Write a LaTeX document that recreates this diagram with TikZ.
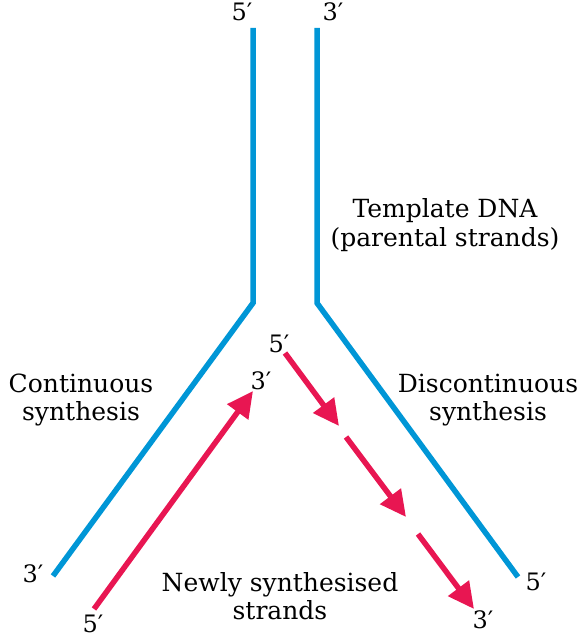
\documentclass[tikz,border=0pt]{standalone}
\usepackage{fontspec}
\setmainfont{DejaVu Serif}
\usetikzlibrary{arrows.meta}

\definecolor{strandblue}{RGB}{0,150,214}
\definecolor{newred}{RGB}{232,22,82}

\tikzset{
  template/.style={line width=5.5pt, strandblue},
  newstrand/.style={line width=5.5pt, newred, -{Triangle[length=26pt,width=25pt]}},
  endlabel/.style={font=\fontsize{24}{28}\selectfont, anchor=base, inner sep=0pt},
  caption/.style={font=\fontsize{25}{28.5}\selectfont, align=center, inner sep=0pt}
}

\begin{document}
\begin{tikzpicture}[x=1pt,y=-1pt]
  % Fix the page size
  \useasboundingbox (0,0) rectangle (586,639);

  % Define the points of the template strands
  \coordinate (L1) at (253,28);
  \coordinate (L2) at (253,303);
  \coordinate (L3) at (53,576);
  \coordinate (R1) at (317,28);
  \coordinate (R2) at (317,303);
  \coordinate (R3) at (518,577);

  % Draw the template strands
  \draw[template] (L1) -- (L2) -- (L3);
  \draw[template] (R1) -- (R2) -- (R3);

  % Define the points of the new strands
  \coordinate (C1) at (94,609);
  \coordinate (C2) at (253,391);
  \coordinate (D1) at (285,353);
  \coordinate (D2) at (339,426);
  \coordinate (D3) at (346,437);
  \coordinate (D4) at (406,517);
  \coordinate (D5) at (418,534);
  \coordinate (D6) at (474,609);

  % Draw the continuous strand
  \draw[newstrand] (C1) -- (C2);

  % Draw the discontinuous pieces
  \draw[newstrand] (D1) -- (D2);
  \draw[newstrand] (D3) -- (D4);
  \draw[newstrand] (D5) -- (D6);

  % Add labels for the strand ends
  \node[endlabel] (topfive) at (242,21) {5′};
  \node[endlabel] (topthree) at (333,21) {3′};
  \node[endlabel] (midfive) at (279,352) {5′};
  \node[endlabel] (midthree) at (261,389) {3′};
  \node[endlabel] (leftthree) at (33,582) {3′};
  \node[endlabel] (leftfive) at (93,632) {5′};
  \node[endlabel] (rightfive) at (536,590) {5′};
  \node[endlabel] (rightthree) at (483,628) {3′};

  % Add the captions
  \node[caption] (tmpl) at (445,225) {Template DNA\\(parental strands)};
  \node[caption] (cont) at (81,400) {Continuous\\synthesis};
  \node[caption] (discont) at (488,400) {Discontinuous\\synthesis};
  \node[caption] (newly) at (280,596) {Newly synthesised\\strands};

\end{tikzpicture}
\end{document}
